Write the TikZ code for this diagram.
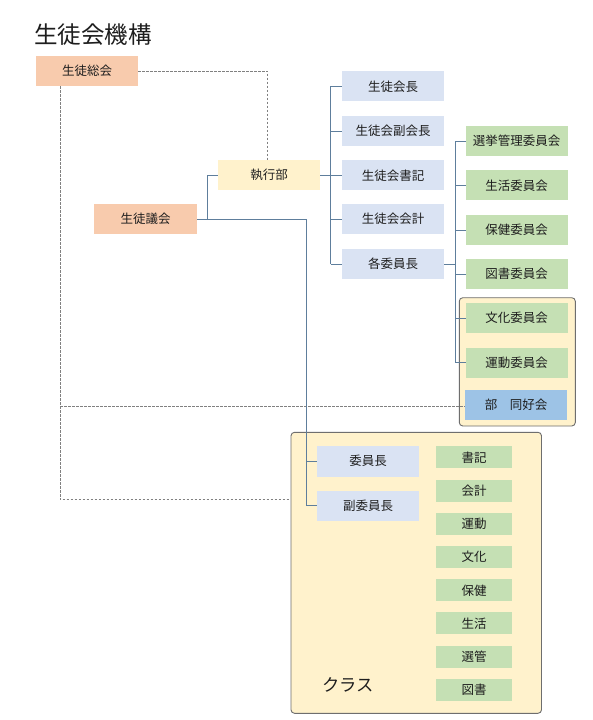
\documentclass[tikz,border=0pt]{standalone}
\usepackage{fontspec}
\setmainfont{Noto Sans CJK JP}
\newfontfamily\jp{Noto Sans CJK JP}
\definecolor{orng}{HTML}{F8CBAD}
\definecolor{yel}{HTML}{FFF2CC}
\definecolor{blu}{HTML}{DAE3F3}
\definecolor{grn}{HTML}{C5E0B4}
\definecolor{bub}{HTML}{9DC3E6}
\definecolor{conn}{HTML}{5E7E9C}
\definecolor{dashc}{HTML}{808080}
\definecolor{grpc}{HTML}{6E6E6E}
\definecolor{txt}{HTML}{1E1E1E}
\begin{document}
\begin{tikzpicture}[x=1pt,y=-1pt,
  box/.style={inner sep=0pt, minimum width=102pt, minimum height=30pt, text=txt, font=\jp\fontsize{12.5}{14}\selectfont},
  obox/.style={box, fill=orng},
  ybox/.style={box, fill=yel},
  bbox/.style={box, fill=blu},
  gbox/.style={box, fill=grn},
  sgbox/.style={box, fill=grn, minimum width=76pt, minimum height=22pt},
  grp/.style={draw=grpc, line width=0.9pt, fill=yel, rounded corners=3.5pt, inner sep=0pt},
  cn/.style={draw=conn, line width=1pt},
  dsh/.style={draw=dashc, line width=0.8pt, dash pattern=on 2.5pt off 1.5pt}
]
\useasboundingbox (0,0) rectangle (592,720);
\fill[white] (0,0) rectangle (592,720);

% title
\node[text=txt, font=\jp\fontsize{23.5}{26}\selectfont, anchor=west, inner sep=0pt] (title) at (34,35) {生徒会機構};

% group boxes
\node[grp, minimum width=250.5pt, minimum height=281pt] (cls) at (416.25,572.8) {};
\node[grp, minimum width=116pt, minimum height=128.3pt] (grpbu) at (517.3,361.85) {};

% main nodes
\node[obox] (sotai) at (87,71) {生徒総会};
\node[obox, minimum width=103pt] (gikai) at (145.5,219) {生徒議会};
\node[ybox] (shikkou) at (269,175.3) {執行部};

\node[bbox] (kaicho) at (393,86.3) {生徒会長};
\node[bbox] (fuku) at (393,131) {生徒会副会長};
\node[bbox] (shoki) at (393,175.3) {生徒会書記};
\node[bbox] (kaikei) at (393,219) {生徒会会計};
\node[bbox] (kakuiin) at (393,264) {各委員長};

\node[gbox] (senkyo) at (516.7,141) {選挙管理委員会};
\node[gbox] (seikatsu) at (516.7,185.3) {生活委員会};
\node[gbox] (hoken) at (516.7,230) {保健委員会};
\node[gbox] (tosho) at (516.7,274) {図書委員会};
\node[gbox] (bunka) at (516.7,318) {文化委員会};
\node[gbox] (undo) at (516.7,362.7) {運動委員会};
\node[box, fill=bub] (bu) at (516,405) {部　同好会};

% class
\node[bbox, minimum height=31pt] (iincho) at (368,461.2) {委員長};
\node[bbox] (fukuiin) at (368,505.7) {副委員長};
\node[sgbox] (c1) at (474,457.3) {書記};
\node[sgbox] (c2) at (474,490.9) {会計};
\node[sgbox] (c3) at (474,523.9) {運動};
\node[sgbox] (c4) at (474,557.2) {文化};
\node[sgbox] (c5) at (474,590.4) {保健};
\node[sgbox] (c6) at (474,623.3) {生活};
\node[sgbox] (c7) at (474,657) {選管};
\node[sgbox] (c8) at (474,689.9) {図書};
\node[text=txt, font=\jp\fontsize{17.3}{20}\selectfont, anchor=west, inner sep=0pt] (kurasu) at (322,685) {クラス};

% coordinates
\coordinate (j1) at (207.3,219);
\coordinate (t2) at (306.7,505.7);
\coordinate (t3) at (330.7,175.3);
\coordinate (t4) at (455,264);
\coordinate (d1) at (60,86);
\coordinate (d2) at (60,499.3);
\coordinate (d3) at (60,406);
\coordinate (d4) at (267.7,160);

% dashed connectors
\draw[dsh] (sotai.east) -| (d4);
\draw[dsh] (d1) -- (d2) -- (d2 -| cls.west);
\draw[dsh] (d3) -- (d3 -| bu.west);

% solid connectors
\draw[cn] (gikai.east) -- (j1) |- (shikkou.west);
\draw[cn] (gikai.east) -| (t2) -- (fukuiin.west);
\draw[cn] (t2 |- iincho.west) -- (iincho.west);

\draw[cn] (shikkou.east) -- (t3);
\draw[cn] (t3 |- kaicho.west) -- (t3 |- kakuiin.west);
\foreach \n in {kaicho,fuku,shoki,kaikei,kakuiin}
  \draw[cn] (t3 |- \n.west) -- (\n.west);

\draw[cn] (kakuiin.east) -- (t4);
\draw[cn] (t4 |- senkyo.west) -- (t4 |- undo.west);
\foreach \n in {senkyo,seikatsu,hoken,tosho,bunka,undo}
  \draw[cn] (t4 |- \n.west) -- (\n.west);
\end{tikzpicture}
\end{document}
